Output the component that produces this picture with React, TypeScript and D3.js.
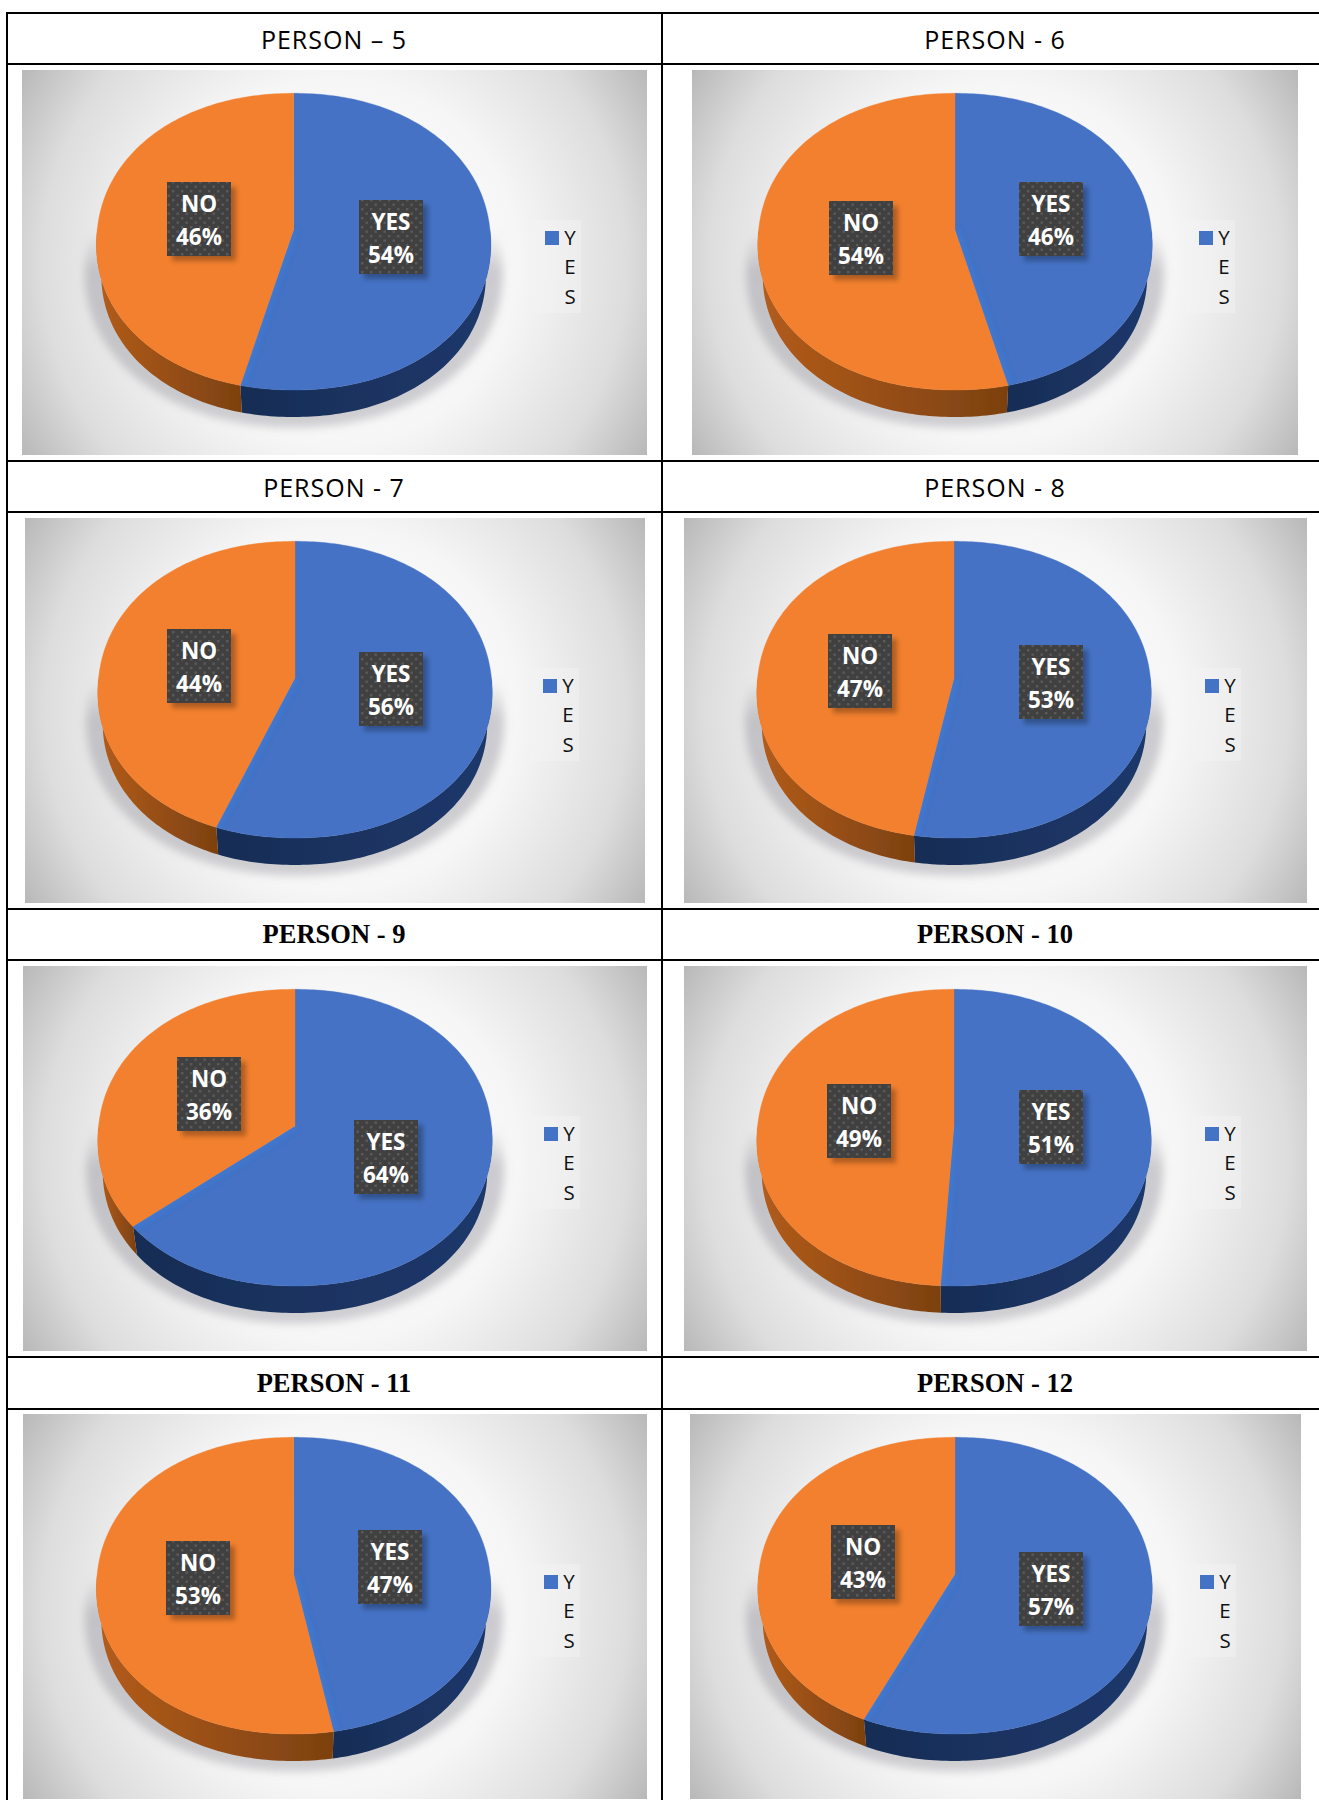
import React from "react";
import * as d3 from "d3";

// Survey answers per person, in percent.
const persons = ["PERSON – 5", "PERSON - 6", "PERSON - 7", "PERSON - 8", "PERSON - 9", "PERSON - 10", "PERSON - 11", "PERSON - 12"];
const yesValues = [54, 46, 56, 53, 64, 51, 47, 57];
const noValues = [46, 54, 44, 47, 36, 49, 53, 43];
const categories = ["YES", "NO"];
const legendLetters = ["Y", "E", "S"];

// Page layout of the table and of each panel.
const rowTops = [13, 461, 909, 1357];
const headerBottoms = [64, 512, 960, 1409];
const headerBaselines = [49, 497, 943, 1392];
const frameLefts = [22, 692, 25, 684, 23, 684, 23, 690];
const frameRights = [647, 1298, 645, 1307, 647, 1307, 647, 1301];
const frameTops = [70, 70, 518, 518, 966, 966, 1414, 1414];
const frameHeight = 385;
const pieCentres = [293.6, 955, 295, 954, 295, 954, 293.6, 955];
const titleCentres = [334, 995];
const legendLefts = [545, 1199, 543, 1205, 544, 1205, 544, 1200];
const yesBoxes = [[359, 200], [1019, 182], [359, 652], [1019, 645], [354, 1120], [1019, 1090], [358, 1530], [1019, 1552]];
const noBoxes = [[167, 182], [829, 201], [167, 629], [828, 634], [177, 1057], [827, 1084], [166, 1541], [831, 1525]];

const sliceColours = d3.scaleOrdinal<string, string>().domain(categories).range(["#4472C4", "#F2802F"]);
const wallFills = d3.scaleOrdinal<string, string>().domain(categories).range(["url(#wallBlue)", "url(#wallOrange)"]);

// Perspective disc: theta runs clockwise from the top of the pie.
const DISC_A = 196.4;
const DISC_B = 147.4;
const TILT = 0.0785;
const WALL_DROP = 31;
const WALL_SCALE = 0.975;
const ROUNDNESS = 2.1;

function discPoint(theta: number, cx: number, cy: number, scale = 1, drop = 0): [number, number] {
  const sinT = Math.sin(theta);
  const cosT = Math.cos(theta);
  // A slightly squared-off rim, as the tilted disc bulges at its diagonals.
  const bulge = Math.pow(Math.pow(Math.abs(sinT), ROUNDNESS) + Math.pow(Math.abs(cosT), ROUNDNESS), -1 / ROUNDNESS);
  const u = sinT * bulge;
  const v = -cosT * bulge;
  const s = scale / (1 - TILT * v);
  return [cx + DISC_A * u * s, cy + drop + DISC_B * v * s];
}

function sampleAngles(a0: number, a1: number): number[] {
  const n = Math.max(2, Math.ceil((a1 - a0) / 0.02));
  return d3.range(n + 1).map((i) => a0 + ((a1 - a0) * i) / n);
}

const outline = d3.line<[number, number]>();
const pieLayout = d3.pie<number>().sort(null).startAngle(0).endAngle(2 * Math.PI);

function Panel({ index }: { index: number }) {
  const cx = pieCentres[index];
  const top = frameTops[index];
  const cy = top + 160;
  const left = frameLefts[index];
  const right = frameRights[index];
  const arcs = pieLayout([yesValues[index], noValues[index]]);
  const legendX = legendLefts[index];
  const frameCx = (left + right) / 2;
  const frameCy = top + frameHeight / 2;
  const bgId = `bg${index}`;
  const clipId = `yesClip${index}`;

  const shadowPath = outline(sampleAngles(0, 2 * Math.PI).map((t) => discPoint(t, cx, cy, 1.06, 28))) + "Z";
  const faces = arcs.map((a) =>
    outline([[cx, cy], ...sampleAngles(a.startAngle, a.endAngle).map((t) => discPoint(t, cx, cy))]) + "Z"
  );
  const seam = outline([[cx, cy], discPoint(arcs[0].endAngle, cx, cy)]) as string;

  return (
    <g>
      <defs>
        <radialGradient
          id={bgId}
          gradientUnits="userSpaceOnUse"
          cx={frameCx}
          cy={frameCy}
          r={Math.hypot(right - left, frameHeight) / 2}
        >
          <stop offset="0" stopColor="#ffffff" />
          <stop offset="0.5" stopColor="#f6f6f6" />
          <stop offset="0.8" stopColor="#dddddd" />
          <stop offset="1" stopColor="#b8b8b8" />
        </radialGradient>
        <clipPath id={clipId}>
          <path d={faces[0]} />
        </clipPath>
      </defs>
      <rect x={left} y={top} width={right - left} height={frameHeight} fill={`url(#${bgId})`} />
      <path d={shadowPath} fill="url(#pieShadow)" filter="url(#blurWide)" />

      <g filter="url(#soften)">
        {arcs.map((a, i) => {
          const from = Math.max(a.startAngle, Math.PI / 2);
          const to = Math.min(a.endAngle, (3 * Math.PI) / 2);
          if (to <= from) return null;
          const angles = sampleAngles(from, to);
          const upper = angles.map((t) => discPoint(t, cx, cy));
          const lower = angles.map((t) => discPoint(t, cx, cy, WALL_SCALE, WALL_DROP)).reverse();
          return (
            <path
              key={`wall${i}`}
              d={outline([...upper, ...lower]) + "Z"}
              fill={wallFills(categories[i])}
            />
          );
        })}
        {faces.map((d, i) => (
          <path
            key={`top${i}`}
            d={d}
            fill={sliceColours(categories[i])}
            stroke={sliceColours(categories[i])}
            strokeWidth={0.4}
          />
        ))}
        <g clipPath={`url(#${clipId})`}>
          <path d={seam} stroke="#3a7ddc" strokeWidth={9} opacity={0.55} fill="none" filter="url(#blurBox)" />
        </g>
      </g>

      {[
        { box: yesBoxes[index], name: categories[0], value: yesValues[index] },
        { box: noBoxes[index], name: categories[1], value: noValues[index] },
      ].map((d) => (
        <g key={d.name}>
          <rect x={d.box[0] + 5} y={d.box[1] + 5} width={64} height={74} fill="#000" opacity={0.28} filter="url(#blurBox)" />
          <rect x={d.box[0]} y={d.box[1]} width={64} height={74} fill="#404040" />
          <rect x={d.box[0]} y={d.box[1]} width={64} height={74} fill="url(#dots)" />
          <text x={d.box[0] + 32} y={d.box[1] + 30} textAnchor="middle" fontFamily="'Open Sans', sans-serif" fontWeight={700} fontSize={22.5} fill="#fff">
            {d.name}
          </text>
          <text x={d.box[0] + 32} y={d.box[1] + 63} textAnchor="middle" fontFamily="'Open Sans', sans-serif" fontWeight={700} fontSize={22.5} fill="#fff">
            {`${d.value}%`}
          </text>
        </g>
      ))}

      <rect x={legendX - 13} y={top + 150} width={49} height={93} fill="#f3f3f3" opacity={0.45} />
      <rect x={legendX} y={top + 161} width={14} height={14} fill={sliceColours(categories[0])} />
      {legendLetters.map((ch, i) => (
        <text key={i} x={legendX + 25} y={top + 175 + i * 29.3} textAnchor="middle" fontFamily="'Open Sans', sans-serif" fontSize={20.5} fill="#111">
          {ch}
        </text>
      ))}
    </g>
  );
}

export default function App() {
  return (
    <svg width={1319} height={1800} style={{ position: "absolute", left: 0, top: 0, background: "#fff" }}>
      <defs>
        <linearGradient id="wallOrange" x1="0" x2="1" y1="0" y2="0">
          <stop offset="0" stopColor="#b35c1b" />
          <stop offset="1" stopColor="#7c4110" />
        </linearGradient>
        <linearGradient id="wallBlue" x1="0" x2="1" y1="0" y2="0">
          <stop offset="0" stopColor="#182d55" />
          <stop offset="1" stopColor="#1c386b" />
        </linearGradient>
        <linearGradient id="pieShadow" x1="0" x2="0" y1="0" y2="1">
          <stop offset="0.38" stopColor="#85858f" stopOpacity={0} />
          <stop offset="0.5" stopColor="#85858f" stopOpacity={0.38} />
          <stop offset="1" stopColor="#85858f" stopOpacity={0.36} />
        </linearGradient>
        <pattern id="dots" width={9} height={9} patternUnits="userSpaceOnUse">
          <rect x={1} y={1} width={2.4} height={2.4} fill="#5a5a5a" />
          <rect x={5.5} y={5.5} width={2.4} height={2.4} fill="#5a5a5a" />
        </pattern>
        <filter id="blurWide" x="-20%" y="-20%" width="140%" height="140%">
          <feGaussianBlur stdDeviation={4} />
        </filter>
        <filter id="blurBox" x="-30%" y="-30%" width="160%" height="160%">
          <feGaussianBlur stdDeviation={2.5} />
        </filter>
        <filter id="soften" x="-5%" y="-5%" width="110%" height="110%">
          <feGaussianBlur stdDeviation={0.6} />
        </filter>
      </defs>

      {persons.map((_, i) => (
        <Panel key={i} index={i} />
      ))}

      {persons.map((name, i) => {
        const row = Math.floor(i / 2);
        const serif = row >= 2;
        return (
          <text
            key={name}
            x={titleCentres[i % 2]}
            y={headerBaselines[row]}
            textAnchor="middle"
            fontFamily={serif ? "'Liberation Serif', serif" : "'Open Sans', sans-serif"}
            fontWeight={serif ? 700 : 400}
            fontSize={serif ? 26.5 : 25}
            letterSpacing={serif ? 0 : 1}
            fill="#000"
          >
            {name}
          </text>
        );
      })}

      {[...rowTops, ...headerBottoms].map((y) => (
        <line key={y} x1={6} x2={1319} y1={y} y2={y} stroke="#000" strokeWidth={2} />
      ))}
      <line x1={7} x2={7} y1={12} y2={1800} stroke="#000" strokeWidth={2} />
      <line x1={662} x2={662} y1={12} y2={1800} stroke="#000" strokeWidth={2} />
    </svg>
  );
}
